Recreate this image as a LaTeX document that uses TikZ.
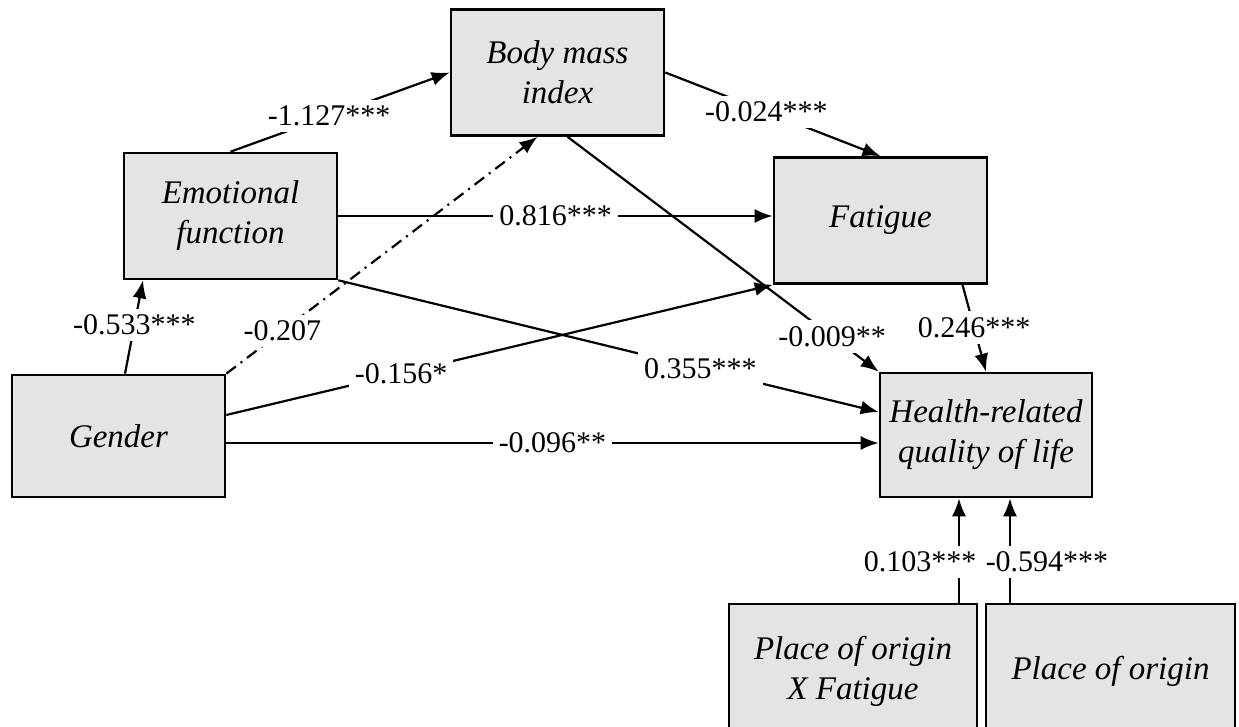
\documentclass[tikz,border=0pt]{standalone}
\usepackage{fontspec}
\setmainfont{Liberation Serif}
\usetikzlibrary{arrows.meta}
\definecolor{boxgray}{RGB}{227,228,230}
\tikzset{
	var/.style={draw,line width=1.3pt,fill=boxgray,align=center,inner sep=0pt,
		minimum width=106.5pt,minimum height=63pt,font=\fontsize{16.5}{20}\selectfont\itshape},
	coef/.style={fill=white,inner xsep=3pt,inner ysep=3pt,font=\fontsize{15}{18}\selectfont},
}
\begin{document}
\begin{tikzpicture}[x=0.5pt,y=-0.5pt,>={Latex[length=9pt,width=7pt]},line width=1.1pt]
	\clip (0,0) rectangle (1239,727);
	%Bien
	\node[var] (bmi) at (557.5,72.5) {Body mass\\index};
	\node[var] (emo) at (230.5,216) {Emotional\\function};
	\node[var] (fat) at (880.5,220.5) {Fatigue};
	\node[var,minimum height=61pt] (gen) at (118.5,436) {Gender};
	\node[var,minimum width=106pt,minimum height=62pt] (hrq) at (986,435) {Health-related\\quality of life};
	\node[var,minimum width=124pt,minimum height=67pt] (pxf) at (853,671) {Place of origin\\X Fatigue};
	\node[var,minimum width=124.5pt,minimum height=67pt] (poo) at (1110.5,671) {Place of origin};
	%Duong
	\draw[->] (emo.north) -- (bmi.west) node[coef,pos=.45]{-1.127***};
	\draw[->] (bmi.east) -- (fat.north) node[coef,pos=.47]{-0.024***};
	\draw[->] (emo.east) -- (emo.east -| fat.west) node[coef,pos=.5]{0.816***};
	\draw[->,dash pattern=on 6pt off 3pt on 1pt off 3pt] (gen.north east) -- ([xshift=-10pt]bmi.south) node[coef,pos=.18]{-0.207};
	\draw[->] ([yshift=10.5pt]gen.east) -- (fat.south west) node[coef,pos=.32]{-0.156*};
	\draw[->] (emo.south east) -- ([yshift=11.5pt]hrq.west) node[coef,pos=.67]{0.355***};
	\draw[->] ([xshift=5pt]bmi.south) -- (hrq.north west) node[coef,pos=.85]{-0.009**};
	\draw[->] ([yshift=-3.5pt]gen.east) -- ([yshift=-3.5pt]gen.east -| hrq.west) node[coef,pos=.5]{-0.096**};
	\draw[->] ([xshift=41pt]fat.south) -- (hrq.north) node[coef,pos=.49]{0.246***};
	\draw[->] ([xshift=3.25pt]gen.north) -- ([xshift=-43.75pt]emo.south) node[coef,pos=.52]{-0.533***};
	%Vao HRQoL
	\coordinate (in1) at ([xshift=-13.5pt]hrq.south);
	\coordinate (in2) at ([xshift=12pt]hrq.south);
	\draw[->] (in1 |- pxf.north) -- (in1) node[coef,pos=.39,xshift=-19.5pt]{0.103***};
	\draw[->] (in2 |- poo.north) -- (in2) node[coef,pos=.39,xshift=18.5pt]{-0.594***};
\end{tikzpicture}
\end{document}
